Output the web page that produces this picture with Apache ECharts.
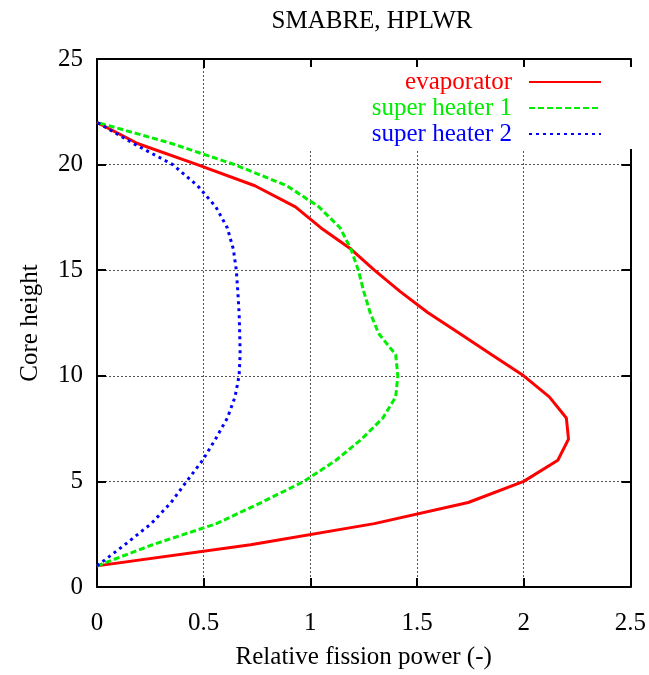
<!DOCTYPE html>
<html>
<head>
<meta charset="utf-8">
<script src="https://cdn.jsdelivr.net/npm/echarts@6/dist/echarts.min.js"></script>
<style>html,body{margin:0;padding:0;background:#fff;}#c{width:649px;height:675px;}</style>
</head>
<body>
<div id="c"></div>
<script>
const heights = [1,2,3,4,5,6,7,8,9,10,11,12,13,14,15,16,17,18,19,20,21,22];
const evaporator = [0,0.72,1.30,1.74,2.00,2.16,2.21,2.20,2.12,2.00,1.85,1.70,1.55,1.42,1.30,1.19,1.05,0.93,0.74,0.47,0.19,0];
const superHeater1 = [0,0.26,0.56,0.77,0.97,1.12,1.24,1.34,1.40,1.41,1.40,1.32,1.28,1.25,1.225,1.19,1.14,1.04,0.89,0.645,0.35,0];
const superHeater2 = [0,0.13,0.254,0.347,0.42,0.495,0.555,0.611,0.647,0.666,0.671,0.669,0.666,0.66,0.653,0.639,0.611,0.557,0.471,0.355,0.17,0];
const seriesNames = ['evaporator','super heater 1','super heater 2'];
const xTicks = [0,0.5,1,1.5,2,2.5];
const yTicks = [0,5,10,15,20,25];
const titleText = 'SMABRE, HPLWR';
const xName = 'Relative fission power (-)';
const yName = 'Core height';

const FONT = '"Liberation Serif","DejaVu Serif",serif';
const pairs = arr => arr.map((v,i)=>[v, heights[i]]);
const gridLine = {show:true, lineStyle:{color:'#555', width:1, type:[2,2]}};
const colors = ['#ff0000','#00ee00','#0000ff'];

const chart = echarts.init(document.getElementById('c'), null, {renderer:'canvas'});
chart.setOption({
  backgroundColor:'#fff',
  animation:false,
  title:{text:titleText, left:367, top:4, textAlign:'center',
    textStyle:{fontFamily:FONT, fontSize:25, fontWeight:'normal', color:'#000'}},
  grid:{left:97, right:16, top:59, bottom:82, containLabel:false},
  legend:{
    orient:'vertical', right:16, top:67, align:'right',
    padding:[2,31,2,90], itemGap:0, itemWidth:72, itemHeight:14,
    backgroundColor:'#fff', z:4,
    itemStyle:{opacity:0},
    textStyle:{fontFamily:FONT, fontSize:25, lineHeight:26, padding:[0,12,0,0]},
    data:seriesNames.map((n,i)=>({name:n, textStyle:{color:colors[i]}}))
  },
  xAxis:[{
    type:'value', min:xTicks[0], max:xTicks[xTicks.length-1], interval:0.5,
    name:xName, nameLocation:'middle', nameGap:58,
    nameTextStyle:{fontFamily:FONT, fontSize:25, color:'#000'},
    axisLine:{show:true, onZero:false, lineStyle:{color:'#000', width:2}},
    axisTick:{show:true, inside:true, length:9, lineStyle:{color:'#000', width:2}},
    axisLabel:{fontFamily:FONT, fontSize:25, color:'#000', margin:24},
    splitLine:gridLine
  },{
    type:'value', position:'top', min:xTicks[0], max:xTicks[xTicks.length-1], interval:0.5,
    axisLine:{show:true, onZero:false, lineStyle:{color:'#000', width:2}},
    axisTick:{show:true, inside:true, length:9, lineStyle:{color:'#000', width:2}},
    axisLabel:{show:false}, splitLine:{show:false}
  }],
  yAxis:[{
    type:'value', min:yTicks[0], max:yTicks[yTicks.length-1], interval:5,
    name:yName, nameLocation:'middle', nameGap:54, nameRotate:90,
    nameTextStyle:{fontFamily:FONT, fontSize:25, color:'#000'},
    axisLine:{show:true, onZero:false, lineStyle:{color:'#000', width:2}},
    axisTick:{show:true, inside:true, length:9, lineStyle:{color:'#000', width:2}},
    axisLabel:{fontFamily:FONT, fontSize:25, color:'#000', margin:14},
    splitLine:gridLine
  },{
    type:'value', position:'right', min:yTicks[0], max:yTicks[yTicks.length-1], interval:5,
    axisLine:{show:true, onZero:false, lineStyle:{color:'#000', width:2}},
    axisTick:{show:true, inside:true, length:9, lineStyle:{color:'#000', width:2}},
    axisLabel:{show:false}, splitLine:{show:false}
  }],
  series:[
    {name:seriesNames[0], type:'line', data:pairs(evaporator), symbol:'none', z:3,
      itemStyle:{color:colors[0]}, lineStyle:{color:colors[0], width:3, type:'solid'}},
    {name:seriesNames[1], type:'line', data:pairs(superHeater1), symbol:'none', z:3,
      itemStyle:{color:colors[1]}, lineStyle:{color:colors[1], width:3, type:[6,3]}},
    {name:seriesNames[2], type:'line', data:pairs(superHeater2), symbol:'none', z:3,
      itemStyle:{color:colors[2]}, lineStyle:{color:colors[2], width:3, type:[3,4]}}
  ]
});
</script>
</body>
</html>
